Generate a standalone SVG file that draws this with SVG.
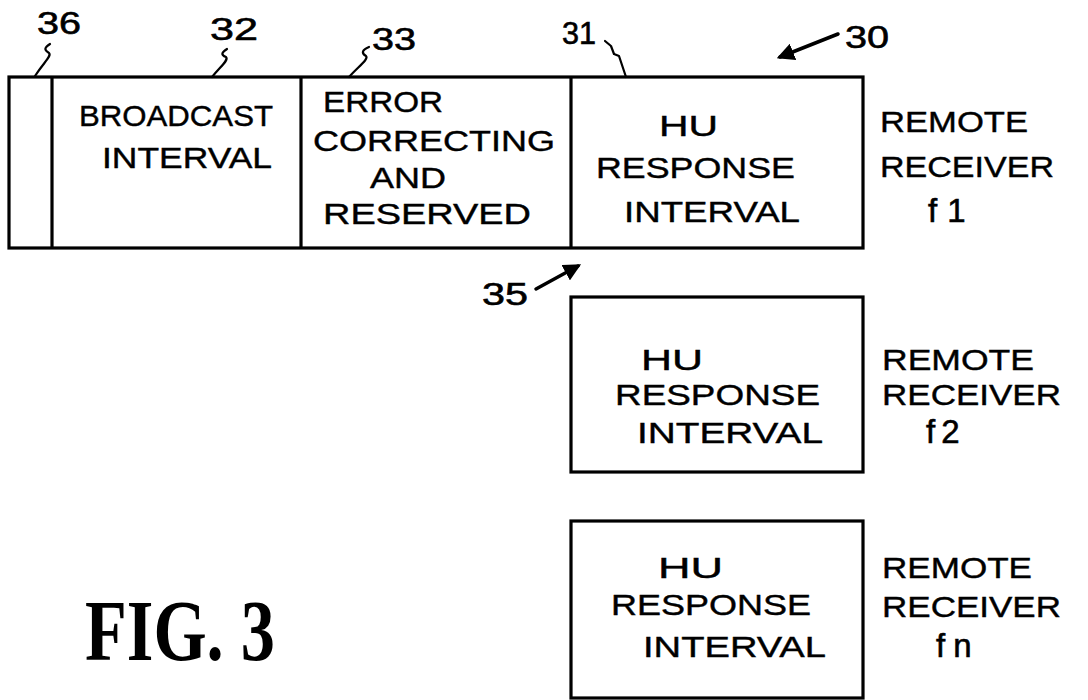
<svg xmlns="http://www.w3.org/2000/svg" width="1088" height="700" viewBox="0 0 1088 700">
<style>
.box{fill:none;stroke:#000;stroke-width:3.2}
.t{font-family:"Liberation Sans",Arial,sans-serif;font-size:29px;fill:#000;stroke:#000;stroke-width:0.4}
.n{font-family:"Liberation Sans",Arial,sans-serif;font-size:31px;fill:#000;stroke:#000;stroke-width:0.6}
.f{font-family:"Liberation Sans",Arial,sans-serif;font-size:33px;fill:#000;stroke:#000;stroke-width:0.6}
.ld{fill:none;stroke:#000;stroke-width:2.2;stroke-linecap:round;stroke-linejoin:round}
.ar{fill:none;stroke:#000;stroke-width:3.5;stroke-linecap:round}
.fig{font-family:"Liberation Serif","Times New Roman",serif;font-weight:bold;font-size:86px;fill:#000}
</style>
<defs>
<marker id="head" viewBox="0 0 10 10" refX="8" refY="5" markerWidth="5" markerHeight="5" orient="auto" markerUnits="strokeWidth">
<path d="M0,0 L10,5 L0,10 Z" fill="#000"/>
</marker>
</defs>

<g id="frame-30">
<rect class="box" x="9" y="77" width="854" height="171"/>
</g>
<g id="slot-36">
<line class="box" x1="52" y1="77" x2="52" y2="248"/>
</g>
<g id="broadcast-32">
<line class="box" x1="301" y1="77" x2="301" y2="248"/>
<text class="t" x="79" y="126" textLength="194" lengthAdjust="spacingAndGlyphs">BROADCAST</text>
<text class="t" x="102" y="168" textLength="170" lengthAdjust="spacingAndGlyphs">INTERVAL</text>
</g>
<g id="error-33">
<line class="box" x1="571" y1="77" x2="571" y2="248"/>
<text class="t" x="323" y="112" textLength="120" lengthAdjust="spacingAndGlyphs">ERROR</text>
<text class="t" x="313" y="151" textLength="242" lengthAdjust="spacingAndGlyphs">CORRECTING</text>
<text class="t" x="370" y="188" textLength="76" lengthAdjust="spacingAndGlyphs">AND</text>
<text class="t" x="323" y="224" textLength="208" lengthAdjust="spacingAndGlyphs">RESERVED</text>
</g>
<g id="hu-31">
<text class="t" x="659" y="136" textLength="59" lengthAdjust="spacingAndGlyphs">HU</text>
<text class="t" x="596" y="178" textLength="199" lengthAdjust="spacingAndGlyphs">RESPONSE</text>
<text class="t" x="624" y="222" textLength="176" lengthAdjust="spacingAndGlyphs">INTERVAL</text>
</g>
<g id="remote-f1">
<text class="t" x="880" y="132" textLength="148" lengthAdjust="spacingAndGlyphs">REMOTE</text>
<text class="t" x="880" y="177" textLength="174" lengthAdjust="spacingAndGlyphs">RECEIVER</text>
<text class="f" x="928" y="222" letter-spacing="10">f1</text>
</g>
<g id="hu-f2">
<rect class="box" x="571" y="297" width="292" height="175"/>
<text class="t" x="641" y="370" textLength="62" lengthAdjust="spacingAndGlyphs">HU</text>
<text class="t" x="615" y="405" textLength="205" lengthAdjust="spacingAndGlyphs">RESPONSE</text>
<text class="t" x="637" y="443" textLength="186" lengthAdjust="spacingAndGlyphs">INTERVAL</text>
</g>
<g id="remote-f2">
<text class="t" x="882" y="370" textLength="152" lengthAdjust="spacingAndGlyphs">REMOTE</text>
<text class="t" x="882" y="405" textLength="179" lengthAdjust="spacingAndGlyphs">RECEIVER</text>
<text class="f" x="926" y="443" letter-spacing="6">f2</text>
</g>
<g id="hu-fn">
<rect class="box" x="571" y="521" width="292" height="177"/>
<text class="t" x="658" y="578" textLength="65" lengthAdjust="spacingAndGlyphs">HU</text>
<text class="t" x="611" y="615" textLength="200" lengthAdjust="spacingAndGlyphs">RESPONSE</text>
<text class="t" x="643" y="657" textLength="183" lengthAdjust="spacingAndGlyphs">INTERVAL</text>
</g>
<g id="remote-fn">
<text class="t" x="882" y="578" textLength="150" lengthAdjust="spacingAndGlyphs">REMOTE</text>
<text class="t" x="882" y="617" textLength="179" lengthAdjust="spacingAndGlyphs">RECEIVER</text>
<text class="f" x="936" y="657" letter-spacing="8">fn</text>
</g>

<g id="labels">
<text class="n" x="37" y="34" textLength="44" lengthAdjust="spacingAndGlyphs">36</text>
<text class="n" x="210" y="40" textLength="48" lengthAdjust="spacingAndGlyphs">32</text>
<text class="n" x="372" y="50" textLength="44" lengthAdjust="spacingAndGlyphs">33</text>
<text class="n" x="562" y="44" textLength="34" lengthAdjust="spacingAndGlyphs">31</text>
<text class="n" x="845" y="48" textLength="44" lengthAdjust="spacingAndGlyphs">30</text>
<text class="n" x="482" y="305" textLength="46" lengthAdjust="spacingAndGlyphs">35</text>
</g>

<g id="connectors">
<path class="ld" d="M50,44 C44,48 44,50 49,53 C52,56 44,62 35,76"/>
<path class="ld" d="M227,49 C221,53 221,55 226,57 C229,60 221,66 212,77"/>
<path class="ld" d="M369,47 C362,50 361,53 366,56 C369,59 359,66 349,77"/>
<path class="ld" d="M605,41 L611,46 L614,54 L619,56 L626,77"/>
<path class="ar" d="M838,34 L780,57" marker-end="url(#head)"/>
<path class="ar" d="M536,289 L578,266" marker-end="url(#head)"/>
</g>

<g id="caption">
<text class="fig" x="85" y="660" textLength="190" lengthAdjust="spacingAndGlyphs">FIG. 3</text>
</g>
</svg>
